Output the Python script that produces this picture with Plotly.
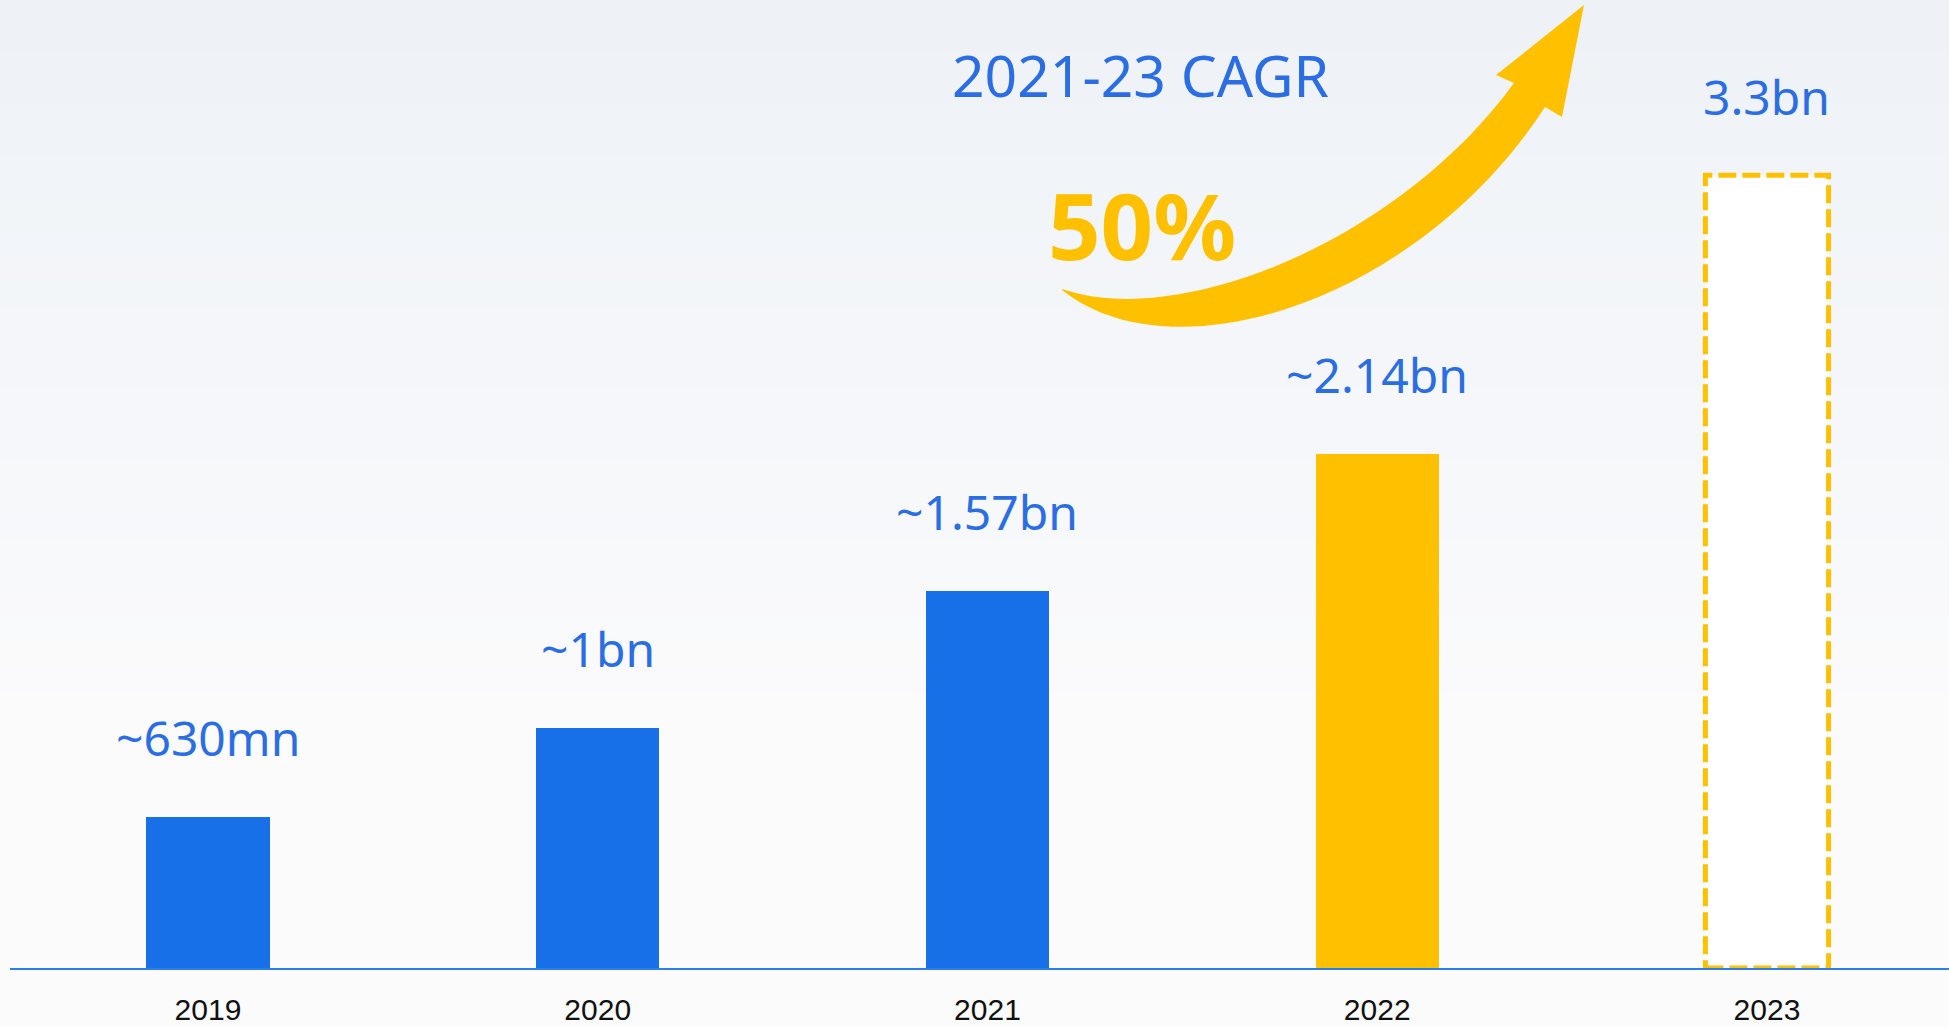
import plotly.graph_objects as go

# ---- data ----
years = ["2019", "2020", "2021", "2022", "2023"]
values = [0.63, 1.0, 1.57, 2.14, 3.3]
value_labels = ["~630mn", "~1bn", "~1.57bn", "~2.14bn", "3.3bn"]
cagr_title = "2021-23 CAGR"
cagr_value = "50%"

# ---- style ----
W, H = 1949, 1027
ML, MR, MT, MB = 10, 0, 0, 59
BLUE = "#1870e8"
TEXT_BLUE = "#2b6ee3"
YELLOW = "#ffc000"
BAR_W = 0.316
X_RANGE = [-0.508, 4.467]
Y_RANGE = [0, 4.03]

fill_colors = [BLUE, BLUE, BLUE, YELLOW, "#ffffff"]

fig = go.Figure()
fig.add_trace(go.Bar(
    x=list(range(len(years))), y=values, width=BAR_W,
    marker=dict(color=fill_colors, line=dict(width=0)),
    hoverinfo="skip",
))

shapes = []
plot_h = H - MT - MB
n_bands = 40
def mix(c1, c2, t):
    a = [int(c1[i:i+2], 16) for i in (1, 3, 5)]
    b = [int(c2[i:i+2], 16) for i in (1, 3, 5)]
    return "#%02x%02x%02x" % tuple(round(a[k] + (b[k] - a[k]) * t) for k in range(3))
y_bottom = -MB / plot_h
for i in range(n_bands):
    y0 = 1 - (1 - y_bottom) * i / n_bands
    y1 = 1 - (1 - y_bottom) * (i + 1) / n_bands
    t = min(1.0, (i / n_bands) / 0.7)
    shapes.append(dict(type="rect", xref="paper", yref="paper", x0=-0.01, x1=1.01,
                       y0=y1 - 0.002, y1=y0, fillcolor=mix("#eef2f7", "#fbfbfc", t),
                       line=dict(width=0), layer="below"))

# dashed outline for the forecast bar (derived from data)
i_last = len(values) - 1
shapes.append(dict(type="rect", xref="x", yref="y",
                   x0=i_last - BAR_W / 2, x1=i_last + BAR_W / 2, y0=0, y1=values[i_last],
                   line=dict(color=YELLOW, width=5, dash="18px,6px"),
                   fillcolor="rgba(0,0,0,0)", layer="above"))

# decorative curved arrow (pixel points -> paper coords)
def px(x, y):
    return "%.5f,%.5f" % ((x - ML) / (W - ML - MR), (H - MB - y) / plot_h)
arrow = ("M " + px(1062, 289) +
         " C " + px(1180, 330) + " " + px(1400, 240) + " " + px(1514, 83) +
         " L " + px(1496, 75) +
         " L " + px(1584, 5) +
         " L " + px(1562, 117) +
         " L " + px(1545, 107) +
         " C " + px(1420, 300) + " " + px(1175, 380) + " " + px(1062, 290) + " Z")
shapes.append(dict(type="path", xref="paper", yref="paper", path=arrow,
                   fillcolor=YELLOW, line=dict(width=0), layer="above"))

annotations = []
for i, lab in enumerate(value_labels):
    annotations.append(dict(x=i, y=values[i], xref="x", yref="y", text=lab,
                            showarrow=False, yanchor="middle", yshift=79,
                            font=dict(family="Noto Sans", size=48, color=TEXT_BLUE)))
annotations.append(dict(x=(1140 - ML) / (W - ML - MR), y=(H - MB - 75) / plot_h,
                        xref="paper", yref="paper", text=cagr_title, showarrow=False,
                        xanchor="center", yanchor="middle",
                        font=dict(family="Noto Sans", size=57, color=TEXT_BLUE)))
annotations.append(dict(x=(1142 - ML) / (W - ML - MR), y=(H - MB - 224) / plot_h,
                        xref="paper", yref="paper", text="<b>" + cagr_value + "</b>",
                        showarrow=False, xanchor="center", yanchor="middle",
                        font=dict(family="Noto Sans", size=92, color=YELLOW)))

fig.update_layout(
    width=W, height=H, autosize=False,
    margin=dict(l=ML, r=MR, t=MT, b=MB, pad=0),
    paper_bgcolor="#f6f8fb", plot_bgcolor="rgba(0,0,0,0)",
    showlegend=False, bargap=0,
    shapes=shapes, annotations=annotations,
    xaxis=dict(range=X_RANGE, tickvals=list(range(len(years))), ticktext=years,
               showline=True, linecolor="#2a7ef0", linewidth=2, showgrid=False,
               zeroline=False, ticks="outside", ticklen=14, tickcolor="rgba(0,0,0,0)",
               tickfont=dict(family="Liberation Sans", size=30, color="#111111"),
               fixedrange=True),
    yaxis=dict(range=Y_RANGE, visible=False, showgrid=False, zeroline=False,
               fixedrange=True),
)

fig.write_html("out.html", config={"displayModeBar": False},
               post_script="document.body.style.margin='0';document.body.style.overflow='hidden';")
